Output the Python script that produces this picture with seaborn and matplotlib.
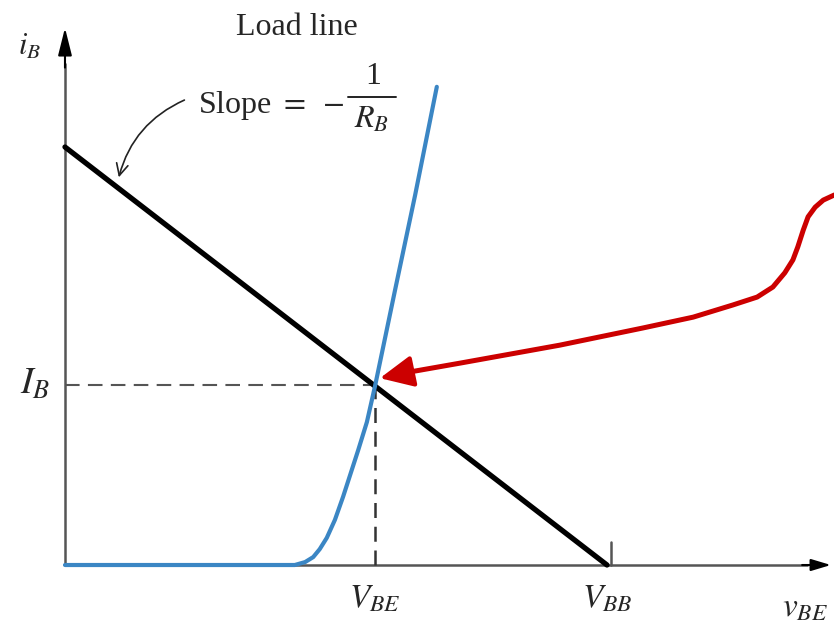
import numpy as np
import pandas as pd
import seaborn as sns
import matplotlib.pyplot as plt

# %% datos (unidades arbitrarias: V_BB = 10, V_BB/R_B = 10)

v_bb = 10.0
i_max = 10.0          # interseccion de la recta de carga con el eje i_B
v_be_q = 5.72         # punto de operacion
i_b_q = 4.31

# curva del diodo base-emisor
diodo_v = [0.0, 4.24, 4.43, 4.58, 4.70, 4.83, 4.98, 5.13, 5.26, 5.41, 5.57, 5.72,
           6.09, 6.46, 6.86]
diodo_i = [0.0, 0.0, 0.07, 0.19, 0.38, 0.65, 1.08, 1.63, 2.15, 2.75, 3.42, 4.28,
           6.58, 8.85, 11.44]

# recta de carga
carga_v = [0.0, v_bb]
carga_i = [i_max, 0.0]

# flecha roja (trazo a mano)
flecha_x = [14.25, 14.19, 13.99, 13.84, 13.71, 13.62, 13.52, 13.43, 13.28, 13.06,
            12.77, 12.32, 11.59, 10.66, 9.13, 7.29, 6.37]
flecha_y = [8.86, 8.85, 8.73, 8.56, 8.33, 8.01, 7.61, 7.30, 6.99, 6.65,
            6.41, 6.22, 5.93, 5.67, 5.26, 4.83, 4.62]
punta = (5.81, 4.47)

# %% estilo

sns.set_theme(style="white")
plt.rcParams['font.family'] = ['Liberation Serif', 'DejaVu Serif']
plt.rcParams['mathtext.fontset'] = 'stix'

fig = plt.figure(figsize=(8.34, 6.27), dpi=100)
ax = fig.add_axes([0, 0, 1, 1])
ax.set_xlim(-1.199, 14.188)
ax.set_ylim(-1.483, 13.517)
ax.axis('off')

gris = '#555555'

# ejes con flechas
ax.plot([0, 0], [0, 12.0], color=gris, lw=1.8, solid_capstyle='butt')
ax.plot([0, 13.7], [0, 0], color=gris, lw=1.8, solid_capstyle='butt')
ax.annotate('', xy=(0, 12.85), xytext=(0, 11.9),
            arrowprops=dict(arrowstyle='-|>,head_length=1.4,head_width=0.35',
                            color='black', lw=1.5, shrinkA=0, shrinkB=0))
ax.annotate('', xy=(14.13, 0), xytext=(13.6, 0),
            arrowprops=dict(arrowstyle='-|>,head_length=1.0,head_width=0.3',
                            color='black', lw=1.5, shrinkA=0, shrinkB=0))

# marca de V_BB
ax.plot([v_bb + 0.07, v_bb + 0.07], [0, 0.55], color=gris, lw=1.8)

# lineas punteadas al punto Q
ax.plot([0, v_be_q], [i_b_q, i_b_q], color=gris, lw=1.5, dashes=(7, 4))
ax.plot([v_be_q, v_be_q], [0, i_b_q], color='#333333', lw=1.8, dashes=(6, 3.5))

# curvas
df_diodo = pd.DataFrame({'v': diodo_v, 'i': diodo_i})
df_carga = pd.DataFrame({'v': carga_v, 'i': carga_i})
sns.lineplot(data=df_carga, x='v', y='i', ax=ax, color='black', lw=3.8,
             sort=False, estimator=None)
sns.lineplot(data=df_diodo, x='v', y='i', ax=ax, color='#3b86c4', lw=3.0,
             sort=False, estimator=None)

# flecha roja
ax.plot(flecha_x, flecha_y, color='#cc0000', lw=3.6, solid_capstyle='round',
        solid_joinstyle='round')
ax.annotate('', xy=punta, xytext=(flecha_x[-1], flecha_y[-1]),
            arrowprops=dict(arrowstyle='-|>,head_length=1.7,head_width=0.8',
                            color='#cc0000', lw=3.0, shrinkA=0, shrinkB=0))

# textos
ax.text(-0.65, 12.39, r'$i_B$', fontsize=22, ha='center', va='center')
ax.text(4.28, 12.85, 'Load line', fontsize=23, ha='center', va='center')
ax.text(2.45, 11.0, r'Slope $=\ -$', fontsize=23, ha='left', va='center')
ax.text(5.69, 11.68, '1', fontsize=23, ha='center', va='center')
ax.plot([5.22, 6.10], [11.2, 11.2], color='#222222', lw=1.4)
ax.text(5.66, 10.65, r'$R_B$', fontsize=23, ha='center', va='center')
ax.text(-0.55, 4.31, r'$I_B$', fontsize=27, ha='center', va='center')
ax.text(v_be_q, -0.82, r'$V_{BE}$', fontsize=24, ha='center', va='center')
ax.text(v_bb, -0.82, r'$V_{BB}$', fontsize=24, ha='center', va='center')
ax.text(13.65, -1.03, r'$v_{BE}$', fontsize=24, ha='center', va='center')

# flecha curva de la pendiente
ax.annotate('', xy=(0.98, 9.21), xytext=(2.25, 11.15),
            arrowprops=dict(arrowstyle='->,head_length=0.7,head_width=0.35',
                            color='#222222', lw=1.2,
                            connectionstyle='arc3,rad=0.25'))

fig.savefig('out.png', dpi=100)
